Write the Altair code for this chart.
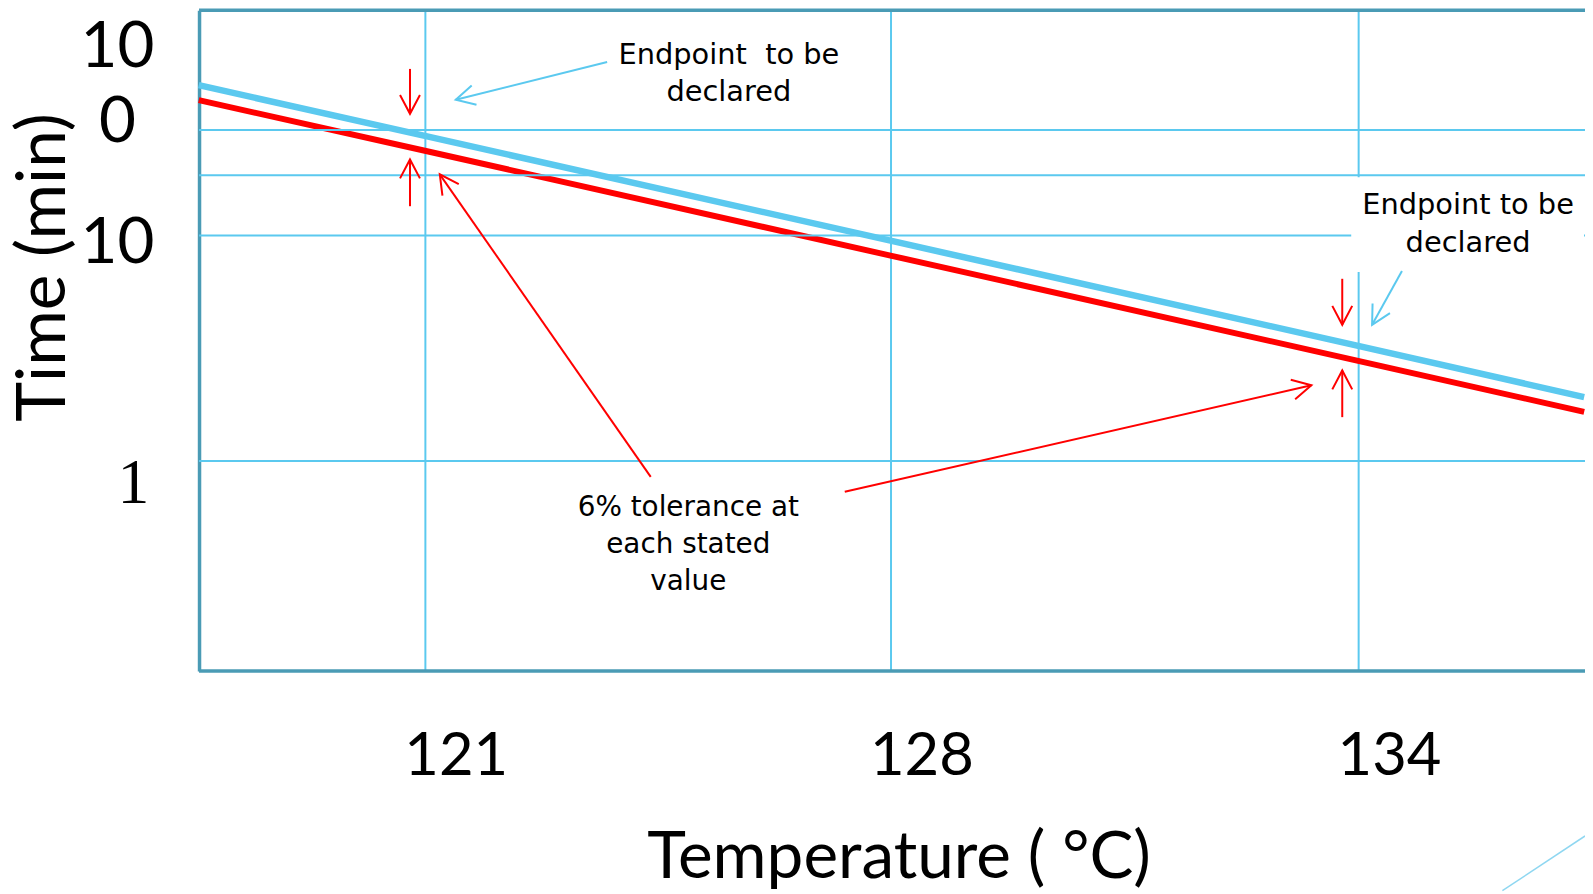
import json
import math
import altair as alt
import pandas as pd

# ---------------- data ----------------
temps = [117.6, 121, 128, 134, 136.9]
cyan_vals = [46.5, 27.7, 9.49, 3.24, 1.92]
red_vals = [39.9, 23.8, 8.15, 2.78, 1.65]
series_names = ["Endpoint to be declared", "6% tolerance"]

x_ticks = [121, 128, 134]
x_tick_labels = ["121", "128", "134"]
y_grid_vals = [29.4, 18.5, 10, 1]
y_label_vals = [56.1, 26.1, 7.58, 0.652]
y_label_text = ["10", "0", "10", "1"]

note_text = ["Endpoint \u00a0to be\ndeclared", "Endpoint to be\ndeclared",
             "6% tolerance at\neach stated\nvalue"]
note_t = [125.57, 135.41, 124.96]
note_v = [57.76, 12.44, 0.571]
note_size = [29, 29, 28]

arrow_kind = ["endpoint", "tolerance", "tolerance", "tolerance",
              "tolerance", "tolerance", "endpoint", "tolerance"]
arrow_t0 = [123.74, 120.776, 120.776, 124.395, 133.796, 133.796, 134.562, 127.312]
arrow_v0 = [58.95, 54.9, 13.50, 0.850, 6.43, 1.564, 6.97, 0.729]
arrow_t1 = [121.464, 120.776, 120.776, 121.224, 133.796, 133.796, 134.179, 133.400]
arrow_v1 = [40.06, 34.7, 21.76, 18.69, 4.02, 2.52, 4.02, 2.165]

box_t = [133.911, 136.898]
box_v = [18.13, 6.90]
deco_t = [135.851, 136.911]
deco_v = [0.01238, 0.02165]

# ---------------- styles ----------------
CYAN = "#5bc9ef"
RED = "#ff0000"
TEAL = "#4a9bb5"
W, H = 1393, 664
X_DOM = [121, 128, 134]
X_RNG = [227, 695, 1165]
Y_DOM = [0.117, 100]
frame_vals = [Y_DOM[1], Y_DOM[0]]  # top and bottom edges of the frame

xs = alt.Scale(domain=X_DOM, range=X_RNG, nice=False, zero=False)
ys = alt.Scale(type="log", domain=Y_DOM, nice=False)


def px(t):
    if t <= X_DOM[1]:
        a, b, ra, rb = X_DOM[0], X_DOM[1], X_RNG[0], X_RNG[1]
    else:
        a, b, ra, rb = X_DOM[1], X_DOM[2], X_RNG[1], X_RNG[2]
    return ra + (t - a) / (b - a) * (rb - ra)


def py(v):
    l0, l1 = math.log10(Y_DOM[0]), math.log10(Y_DOM[1])
    return H * (l1 - math.log10(v)) / (l1 - l0)


x_label_expr = f"{json.dumps(x_tick_labels)}[indexof({json.dumps(x_ticks)}, datum.value)]"
y_label_expr = f"{json.dumps(y_label_text)}[indexof({json.dumps(y_label_vals)}, datum.value)]"

x_axis = alt.Axis(
    values=x_ticks, labelExpr=x_label_expr, grid=True, gridColor=CYAN, gridWidth=2,
    ticks=False, tickSize=0, domain=False,
    labelFont="Lato", labelFontSize=60, labelColor="black", labelPadding=104,
    labelBaseline="alphabetic", labelOffset=31, labelFlush=False, labelOverlap=False,
    titleFont="Lato", titleFontSize=66, titleFontWeight="normal", titleColor="black",
    titleX=703, titleY=208, titleBaseline="alphabetic", titleAlign="center",
)
y_axis = alt.Axis(
    values=y_label_vals, labelExpr=y_label_expr, grid=False, ticks=False, tickSize=0,
    domainColor=TEAL, domainWidth=3.5,
    labelFont={"condition": {"test": "datum.value < 1", "value": "Liberation Serif"}, "value": "Lato"},
    labelAlign={"condition": {"test": "datum.value < 1", "value": "left"}, "value": "center"},
    labelFontSize=64, labelBaseline="alphabetic", labelPadding=82.5, labelColor="black",
    labelOverlap=False, labelFlush=False,
    titleFont="Lato", titleFontSize=68, titleFontWeight="normal", titleColor="black",
    titleAngle=270, titleX=-135, titleY=258, titleBaseline="alphabetic", titleAlign="center",
)
X_TITLE = "Temperature ( °C)"
Y_TITLE = "Time (min)"


def X(field):
    return alt.X(field, type="quantitative", scale=xs, axis=x_axis, title=X_TITLE)


def Y(field):
    return alt.Y(field, type="quantitative", scale=ys, axis=y_axis, title=Y_TITLE)


# ---------------- tables ----------------
lines_df = pd.DataFrame({
    "t": temps + temps,
    "v": cyan_vals + red_vals,
    "s": [series_names[0]] * len(temps) + [series_names[1]] * len(temps),
})
grid_df = pd.DataFrame({"v": y_grid_vals})
frame_df = pd.DataFrame({"v": frame_vals})
note_df = pd.DataFrame({"t": note_t, "v": note_v, "txt": note_text, "sz": note_size})
col = {"endpoint": CYAN, "tolerance": RED}
arrow_df = pd.DataFrame({
    "t0": arrow_t0, "v0": arrow_v0, "t1": arrow_t1, "v1": arrow_v1,
    "c": [col[k] for k in arrow_kind],
})
arrow_df["ang"] = [
    (math.degrees(math.atan2(-(px(b) - px(a)), py(d) - py(c))) + 360) % 360
    for a, b, c, d in zip(arrow_t0, arrow_t1, arrow_v0, arrow_v1)
]
box_df = pd.DataFrame({"t0": [box_t[0]], "t1": [box_t[1]], "v0": [box_v[0]], "v1": [box_v[1]]})
deco_df = pd.DataFrame({"t0": [deco_t[0]], "t1": [deco_t[1]], "v0": [deco_v[0]], "v1": [deco_v[1]]})

# ---------------- layers ----------------
lines = alt.Chart(lines_df).mark_line().encode(
    x=X("t"),
    y=Y("v"),
    color=alt.Color("s:N", scale=alt.Scale(domain=series_names, range=[CYAN, RED]), legend=None),
    strokeWidth=alt.StrokeWidth("s:N", scale=alt.Scale(domain=series_names, range=[6.5, 6]), legend=None),
    order="t:Q",
)
grid = alt.Chart(grid_df).mark_rule(color=CYAN, strokeWidth=2).encode(y=Y("v"))
frame = alt.Chart(frame_df).mark_rule(color=TEAL, strokeWidth=3.5).encode(y=Y("v"))
box = alt.Chart(box_df).mark_rect(color="white").encode(
    x=X("t0"), x2="t1:Q", y=Y("v0"), y2="v1:Q",
)
notes = alt.Chart(note_df).mark_text(
    font="DejaVu Sans", color="black", align="center", baseline="alphabetic",
    lineBreak="\n", lineHeight=37.5,
).encode(
    x=X("t"), y=Y("v"), text="txt:N",
    size=alt.Size("sz:Q", scale=None, legend=None),
)
shafts = alt.Chart(arrow_df).mark_rule(strokeWidth=2).encode(
    x=X("t0"), x2="t1:Q", y=Y("v0"), y2="v1:Q",
    color=alt.Color("c:N", scale=None),
)
heads = alt.Chart(arrow_df).mark_point(
    shape="M-0.5,-0.95L0,0L0.5,-0.95", filled=False, size=1600, strokeWidth=2, opacity=1,
).encode(
    x=X("t1"), y=Y("v1"),
    angle=alt.Angle("ang:Q", scale=None),
    color=alt.Color("c:N", scale=None),
)
deco = alt.Chart(deco_df).mark_rule(color="#8fd7f1", strokeWidth=1.5).encode(
    x=X("t0"), x2="t1:Q", y=Y("v0"), y2="v1:Q",
)

chart = alt.layer(lines, grid, frame, box, notes, shafts, heads, deco).properties(
    width=W, height=H,
    autosize=alt.AutoSizeParams(type="none"),
    padding={"left": 192, "top": 0, "right": 0, "bottom": 222},
    background="white",
).configure_view(stroke=None)

chart.save("out.html", embed_options={"renderer": "svg", "actions": False})
